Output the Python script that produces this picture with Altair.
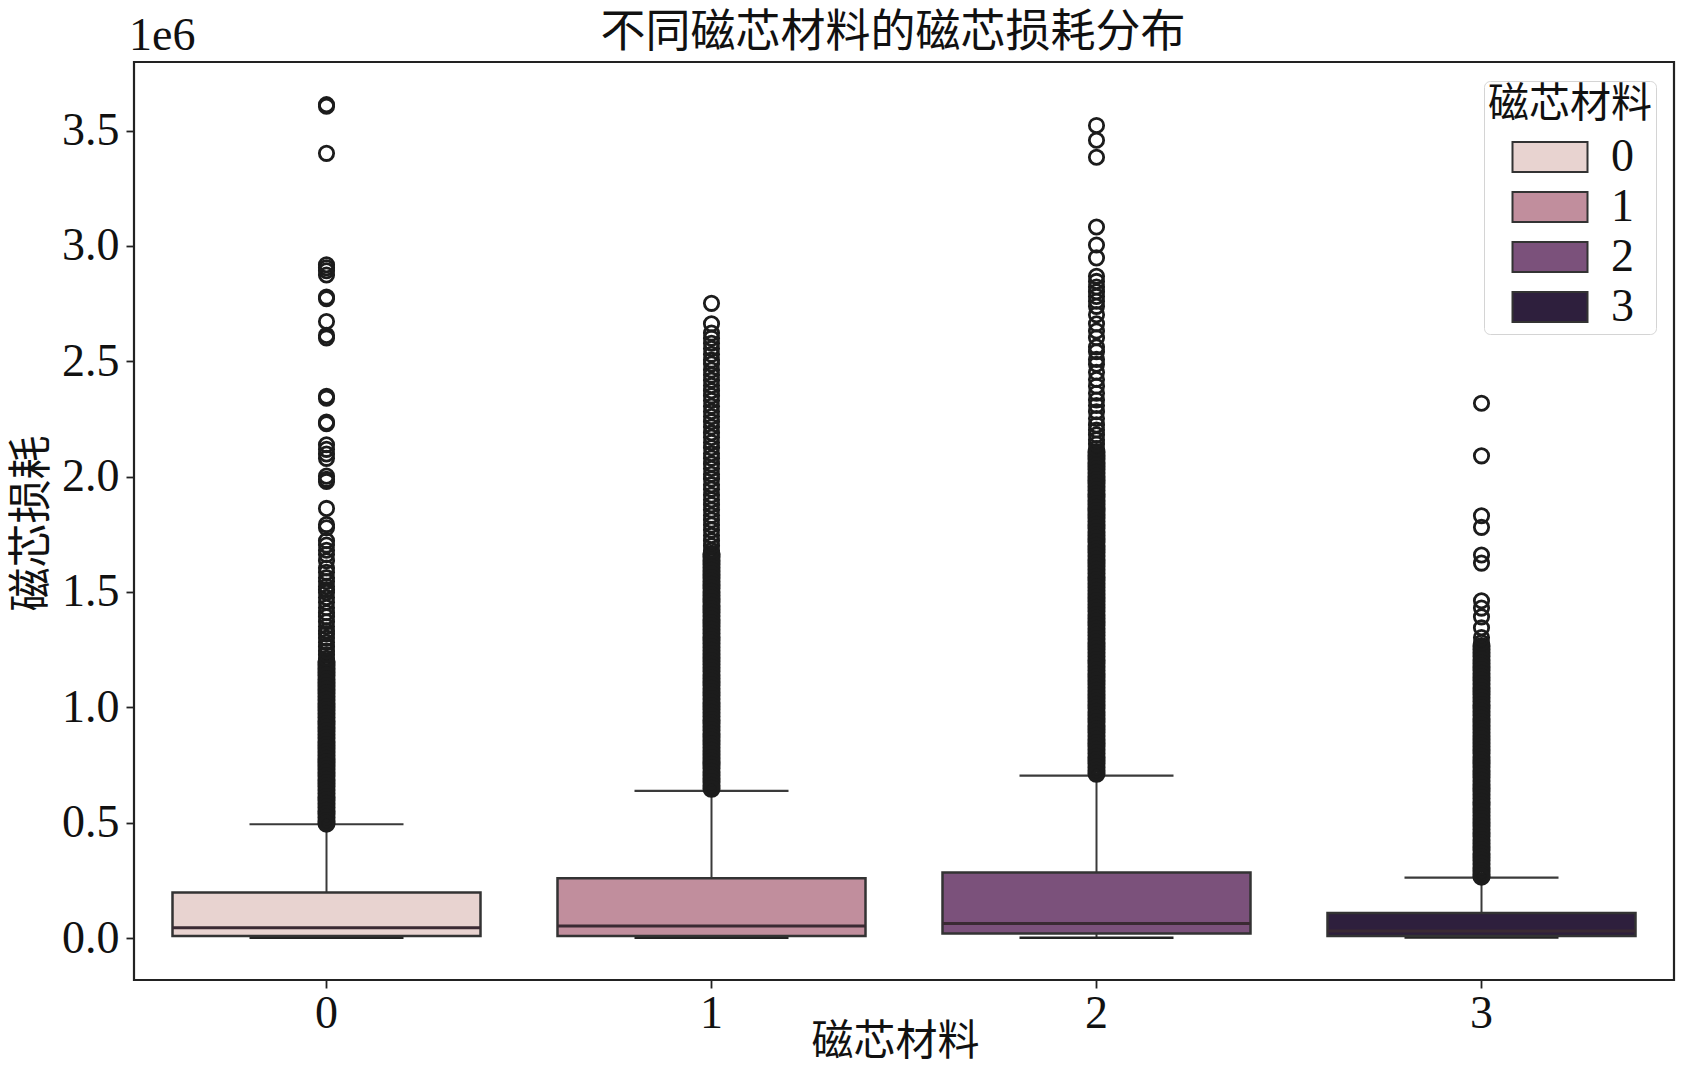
import altair as alt
import pandas as pd

# ---------------- data (values in units of 1e6) ----------------
materials = ["0", "1", "2", "3"]
box_lo = [0.001, 0.001, 0.001, 0.002]
box_q1 = [0.009, 0.009, 0.020, 0.009]
box_med = [0.045, 0.052, 0.063, 0.030]
box_q3 = [0.197, 0.259, 0.284, 0.108]
box_hi = [0.493, 0.638, 0.704, 0.262]
fill_colors = ["#e8d3d0", "#c18e9d", "#7b517b", "#2e1f3d"]

# isolated outliers (individual circles)
outliers_0_sparse = [3.612, 3.605, 3.401, 2.918, 2.905, 2.892, 2.874, 2.778, 2.771, 2.672, 2.612,
                     2.601, 2.348, 2.340, 2.236, 2.229, 2.138, 2.118, 2.098, 2.079, 2.002, 1.988,
                     1.979, 1.862, 1.792, 1.778, 1.722, 1.703, 1.681, 1.662, 1.635, 1.604, 1.585,
                     1.562, 1.545, 1.524, 1.510, 1.498, 1.476, 1.455, 1.432, 1.410, 1.392, 1.371,
                     1.350, 1.331, 1.318, 1.300, 1.282, 1.262, 1.244, 1.228, 1.212]
outliers_1_sparse = [2.751, 2.662, 2.622, 2.600, 2.578, 2.555, 2.530, 2.505, 2.488, 2.462, 2.440,
                     2.418, 2.395, 2.372, 2.350, 2.330, 2.305, 2.282, 2.260, 2.238, 2.215, 2.190,
                     2.170, 2.148, 2.125, 2.100, 2.080, 2.055, 2.035, 2.010, 1.990, 1.965, 1.945,
                     1.920, 1.900, 1.878, 1.855, 1.832, 1.812, 1.790, 1.768, 1.745, 1.722, 1.700,
                     1.680]
outliers_2_sparse = [3.522, 3.458, 3.384, 3.082, 3.004, 2.948, 2.868, 2.846, 2.822, 2.801, 2.781,
                     2.760, 2.738, 2.702, 2.662, 2.631, 2.602, 2.562, 2.541, 2.508, 2.487, 2.452,
                     2.421, 2.392, 2.361, 2.332, 2.308, 2.281, 2.252, 2.224, 2.202, 2.181, 2.160,
                     2.141, 2.122]
outliers_3_sparse = [2.318, 2.090, 1.830, 1.780, 1.660, 1.625, 1.462, 1.430, 1.392, 1.345, 1.302,
                     1.281]

# packed outliers (where the circles merge into a solid column)
outliers_0_dense = [1.197, 1.183, 1.168, 1.152, 1.138, 1.121, 1.107, 1.092, 1.077, 1.061, 1.046,
                    1.032, 1.016, 1.001, 0.987, 0.972, 0.956, 0.941, 0.927, 0.912, 0.896, 0.881,
                    0.867, 0.851, 0.836, 0.822, 0.806, 0.791, 0.777, 0.762, 0.746, 0.731, 0.717,
                    0.702, 0.686, 0.671, 0.657, 0.642, 0.626, 0.611, 0.597, 0.582, 0.566, 0.551,
                    0.537, 0.522, 0.507, 0.496]
outliers_1_dense = [1.665, 1.651, 1.636, 1.620, 1.605, 1.591, 1.576, 1.560, 1.545, 1.531, 1.516,
                    1.500, 1.485, 1.471, 1.456, 1.440, 1.425, 1.411, 1.396, 1.380, 1.365, 1.351,
                    1.336, 1.320, 1.305, 1.291, 1.276, 1.260, 1.245, 1.231, 1.216, 1.200, 1.185,
                    1.171, 1.156, 1.140, 1.125, 1.111, 1.096, 1.080, 1.065, 1.051, 1.036, 1.020,
                    1.005, 0.991, 0.976, 0.960, 0.945, 0.931, 0.916, 0.900, 0.885, 0.871, 0.856,
                    0.840, 0.825, 0.811, 0.796, 0.780, 0.765, 0.751, 0.736, 0.720, 0.705, 0.691,
                    0.676, 0.660, 0.647]
outliers_2_dense = [2.106, 2.091, 2.076, 2.060, 2.045, 2.031, 2.016, 2.000, 1.985, 1.971, 1.956,
                    1.940, 1.925, 1.911, 1.896, 1.880, 1.865, 1.851, 1.836, 1.820, 1.805, 1.791,
                    1.776, 1.760, 1.745, 1.731, 1.716, 1.700, 1.685, 1.671, 1.656, 1.640, 1.625,
                    1.611, 1.596, 1.580, 1.565, 1.551, 1.536, 1.520, 1.505, 1.491, 1.476, 1.460,
                    1.445, 1.431, 1.416, 1.400, 1.385, 1.371, 1.356, 1.340, 1.325, 1.311, 1.296,
                    1.280, 1.265, 1.251, 1.236, 1.220, 1.205, 1.191, 1.176, 1.160, 1.145, 1.131,
                    1.116, 1.100, 1.085, 1.071, 1.056, 1.040, 1.025, 1.011, 0.996, 0.980, 0.965,
                    0.951, 0.936, 0.920, 0.905, 0.891, 0.876, 0.860, 0.845, 0.831, 0.816, 0.800,
                    0.785, 0.771, 0.756, 0.740, 0.725, 0.712]
outliers_3_dense = [1.265, 1.250, 1.236, 1.221, 1.205, 1.190, 1.176, 1.161, 1.145, 1.130, 1.116,
                    1.101, 1.085, 1.070, 1.056, 1.041, 1.025, 1.010, 0.996, 0.981, 0.965, 0.950,
                    0.936, 0.921, 0.905, 0.890, 0.876, 0.861, 0.845, 0.830, 0.816, 0.801, 0.785,
                    0.770, 0.756, 0.741, 0.725, 0.710, 0.696, 0.681, 0.665, 0.650, 0.636, 0.621,
                    0.605, 0.590, 0.576, 0.561, 0.545, 0.530, 0.516, 0.501, 0.485, 0.470, 0.456,
                    0.441, 0.425, 0.410, 0.396, 0.381, 0.365, 0.350, 0.336, 0.321, 0.305, 0.290,
                    0.276, 0.266]

y_ticks = [0.0, 0.5, 1.0, 1.5, 2.0, 2.5, 3.0, 3.5]

title_text = "不同磁芯材料的磁芯损耗分布"
x_title = "磁芯材料"
y_title = "磁芯损耗"
legend_title = "磁芯材料"
offset_label = "1e6"

# ---------------- tables ----------------
boxes = pd.DataFrame({"m": materials, "lo": box_lo, "q1": box_q1, "med": box_med,
                      "q3": box_q3, "hi": box_hi})


def outlier_table(lists):
    rows = []
    for m, vals in zip(materials, lists):
        for v in vals:
            rows.append({"m": m, "v": v})
    return pd.DataFrame(rows)


sparse = outlier_table([outliers_0_sparse, outliers_1_sparse, outliers_2_sparse, outliers_3_sparse])
dense = outlier_table([outliers_0_dense, outliers_1_dense, outliers_2_dense, outliers_3_dense])

CJK = "Noto Sans CJK SC"
LINE = "#3a3a3a"

x_enc = alt.X("m:N", sort=materials,
              scale=alt.Scale(paddingInner=0.2, paddingOuter=0.1),
              axis=alt.Axis(title=x_title, labelAngle=0, titleX=761, titleY=41,
                            titleBaseline="top", titleFont=CJK, titleFontSize=42,
                            titleFontWeight="normal", labelPadding=3))
y_scale = alt.Scale(domain=[-0.182, 3.797], nice=False, zero=False)
y_axis = alt.Axis(title=y_title, values=y_ticks, format=".1f", titleFont=CJK,
                  titleFontSize=44, titleFontWeight="normal", titleAngle=270,
                  titleX=-102, titleY=461, titleBaseline="middle", titleAlign="center",
                  labelPadding=7)

base = alt.Chart(boxes)

whisk_up = base.mark_rule(color=LINE, strokeWidth=2).encode(
    x=x_enc, y=alt.Y("q3:Q", scale=y_scale, axis=y_axis), y2="hi:Q")
whisk_lo = base.mark_rule(color=LINE, strokeWidth=2).encode(
    x=x_enc, y=alt.Y("lo:Q", scale=y_scale), y2="q1:Q")
cap_hi = base.mark_tick(size=154, thickness=2.2, color=LINE, opacity=1).encode(
    x=x_enc, y=alt.Y("hi:Q", scale=y_scale))
cap_lo = base.mark_tick(size=154, thickness=2.4, color="#222222", opacity=1).encode(
    x=x_enc, y=alt.Y("lo:Q", scale=y_scale))

box = base.mark_bar(stroke="#333333", strokeWidth=2.5, opacity=1).encode(
    x=x_enc,
    y=alt.Y("q1:Q", scale=y_scale),
    y2="q3:Q",
    color=alt.Color("m:N", sort=materials,
                    scale=alt.Scale(domain=materials, range=fill_colors),
                    legend=alt.Legend(
                        title=legend_title, orient="none", legendX=1350, legendY=19,
                        titleFont=CJK, titleFontSize=41, titleFontWeight="normal",
                        titleColor="#111111", titlePadding=8,
                        labelFont="Liberation Serif", labelFontSize=46, labelColor="#111111",
                        labelOffset=38, symbolOffset=39,
                        symbolType="M-2.5,-1H2.5V1H-2.5Z", symbolSize=900,
                        symbolStrokeColor="#333333", symbolStrokeWidth=2, symbolOpacity=1,
                        rowPadding=4, padding=4, cornerRadius=6,
                        strokeColor="#d4d4d4", fillColor="#ffffff")))

median = base.mark_tick(size=308, thickness=3, color="#3a2a33", opacity=1).encode(
    x=x_enc, y=alt.Y("med:Q", scale=y_scale))

pts_dense = alt.Chart(dense).mark_point(shape="circle", filled=False, size=195, strokeWidth=4.2,
                                        color="#1c1c1c", opacity=1).encode(
    x=x_enc, y=alt.Y("v:Q", scale=y_scale))
pts_sparse = alt.Chart(sparse).mark_point(shape="circle", filled=False, size=205, strokeWidth=2.8,
                                          color="#1c1c1c", opacity=1).encode(
    x=x_enc, y=alt.Y("v:Q", scale=y_scale))

offset_txt = alt.Chart(pd.DataFrame({"t": [offset_label]})).mark_text(
    font="Liberation Serif", fontSize=46, align="left", baseline="alphabetic",
    color="#111111").encode(text="t:N", x=alt.value(-5), y=alt.value(-12))

title_txt = alt.Chart(pd.DataFrame({"t": [title_text]})).mark_text(
    font=CJK, fontSize=45, align="center", baseline="alphabetic",
    color="#111111").encode(text="t:N", x=alt.value(759), y=alt.value(-15))

chart = alt.layer(whisk_up, whisk_lo, cap_hi, cap_lo, box, median, pts_dense, pts_sparse,
                  offset_txt, title_txt).properties(
    width=1540, height=918,
    autosize=alt.AutoSizeParams(type="none"),
    padding={"left": 126, "top": 54, "right": 7, "bottom": 81},
).configure_view(stroke="#222222", strokeWidth=2.2).configure_axis(
    grid=False, domain=False, tickColor="#222222", tickWidth=1.8, tickSize=8,
    labelFont="Liberation Serif", labelFontSize=46, labelColor="#111111",
    titleColor="#111111")

chart.save("out.html", embed_options={"renderer": "svg", "actions": False})
